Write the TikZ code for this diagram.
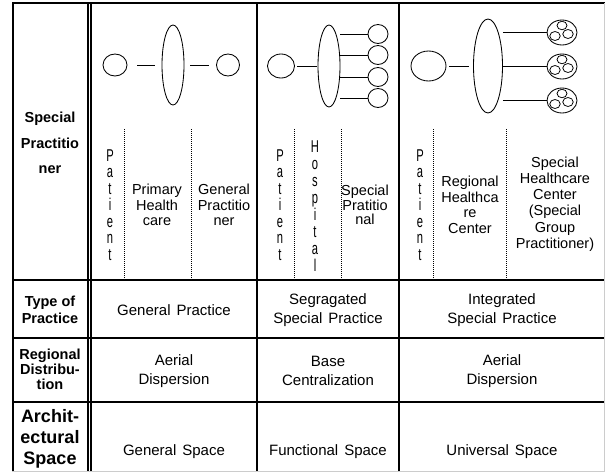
\documentclass[tikz,border=0pt]{standalone}
\usepackage{fontspec}
\usepackage{graphicx}
\setmainfont{Liberation Sans}
\usetikzlibrary{shapes.geometric}
\newcommand\sv[1]{\scalebox{0.8}[1.22]{#1}}
\begin{document}
\begin{tikzpicture}[x=1pt,y=-1pt,
  gridline/.style={line width=1.1pt},
  shp/.style={draw, ellipse, inner sep=0pt, line width=0.85pt},
  conn/.style={line width=0.85pt},
  dots/.style={line width=0.7pt, dash pattern=on 0.7pt off 1.3pt},
  lbl/.style={font=\fontsize{14.5}{17}\selectfont\bfseries, align=center},
  txt/.style={font=\fontsize{15}{18.5}\selectfont, align=center},
  sub/.style={font=\fontsize{14.5}{15.5}\selectfont, align=center},
  vert/.style={font=\fontsize{14}{16.5}\selectfont, align=center}
]
\useasboundingbox (0,0) rectangle (605,472);
% table frame
\draw[line width=2.5pt] (13,3) -- (13,472);
\draw[gridline] (12,3) -- (605,3);
\draw[gridline] (88,3) -- (88,472);
\draw[gridline] (91,3) -- (91,472);
\draw[gridline] (257,3) -- (257,472);
\draw[gridline] (399,3) -- (399,472);
\draw[gridline] (12,280) -- (605,280);
\draw[gridline] (12,338) -- (605,338);
\draw[gridline] (12,402) -- (605,402);
\draw[gray!40, line width=0.8pt] (604.5,3) -- (604.5,472);
\draw[gray!40, line width=0.8pt] (12,471.5) -- (605,471.5);
% dotted sub-column lines
\draw[dots] (124,129) -- (124,279);
\draw[dots] (191,129) -- (191,279);
\draw[dots] (294,129) -- (294,279);
\draw[dots] (341,129) -- (341,279);
\draw[dots] (433,129) -- (433,279);
\draw[dots] (506,129) -- (506,279);

% column 1 diagram
\node[shp, minimum width=24pt, minimum height=22pt] (c1a) at (115,65) {};
\node[shp, minimum width=22pt, minimum height=80pt] (e1) at (173,65) {};
\node[shp, minimum width=23pt, minimum height=22pt] (c1b) at (228,65) {};
\draw[conn, shorten <=10pt, shorten >=7pt] (c1a) -- (e1);
\draw[conn, shorten <=6pt, shorten >=7pt] (e1) -- (c1b);

% column 2 diagram
\node[shp, minimum width=27pt, minimum height=24pt] (c2a) at (281,66) {};
\node[shp, minimum width=22pt, minimum height=82pt] (e2) at (329,66) {};
\draw[conn, shorten <=2pt, shorten >=1pt] (c2a) -- (e2);
\foreach \i/\yy in {1/34,2/55,3/77,4/98}{
  \node[shp, minimum width=20pt, minimum height=19pt] (s\i) at (378,\yy) {};
  \draw[conn] (e2.east |- s\i.west) -- (s\i.west);
}

% column 3 diagram
\node[shp, minimum width=35pt, minimum height=30pt] (c3a) at (428.5,66) {};
\node[shp, minimum width=29pt, minimum height=94pt] (e3) at (488,66) {};
\draw[conn, shorten <=3pt, shorten >=4.5pt] (c3a) -- (e3);
\foreach \i/\yy in {1/32.5,2/66.5,3/100.5}{
  \node[shp, minimum width=30pt, minimum height=25pt] (g\i) at (562,\yy) {};
  \node[shp, minimum width=10pt, minimum height=8.5pt, line width=0.75pt] (g\i t) at ([shift={(0,-7)}]g\i.center) {};
  \node[shp, minimum width=10.5pt, minimum height=9pt, line width=0.75pt] (g\i l) at ([shift={(-7,3.5)}]g\i.center) {};
  \node[shp, minimum width=10.5pt, minimum height=9pt, line width=0.75pt] (g\i r) at ([shift={(6,1.5)}]g\i.center) {};
  \draw[conn] (e3.east |- g\i.west) -- (g\i.west);
}

% left labels
\node[lbl, font=\fontsize{14.5}{25.5}\selectfont\bfseries] (l1) at (50,143) {Special\\Practitio\\ner};
\node[lbl] (l2) at (50,310) {Type of\\Practice};
\node[lbl, font=\fontsize{14.5}{15}\selectfont\bfseries] (l3) at (50,369) {Regional\\Distribu-\\tion};
\node[lbl, font=\fontsize{18}{21}\selectfont\bfseries] (l4) at (50,439) {Archit-\\ectural\\Space};

% sub-column texts
\node[vert] (p1) at (110,205) {\sv{P}\\\sv{a}\\\sv{t}\\\sv{i}\\\sv{e}\\\sv{n}\\\sv{t}};
\node[sub] (t1) at (157,205) {Primary\\Health\\care};
\node[sub] (t2) at (224,205) {General\\Practitio\\ner};
\node[vert] (p2) at (280,205) {\sv{P}\\\sv{a}\\\sv{t}\\\sv{i}\\\sv{e}\\\sv{n}\\\sv{t}};
\node[vert, font=\fontsize{14}{16.9}\selectfont] (h2) at (315,206) {\sv{H}\\\sv{o}\\\sv{s}\\\sv{p}\\\sv{i}\\\sv{t}\\\sv{a}\\\sv{l}};
\node[sub, font=\fontsize{14.5}{14.5}\selectfont] (t3) at (365,205) {Special\\Pratitio\\nal};
\node[vert] (p3) at (420,205) {\sv{P}\\\sv{a}\\\sv{t}\\\sv{i}\\\sv{e}\\\sv{n}\\\sv{t}};
\node[sub] (t4) at (470,205) {Regional\\Healthca\\re\\Center};
\node[sub, font=\fontsize{14.5}{16.3}\selectfont] (t5) at (555,204) {Special\\Healthcare\\Center\\(Special\\Group\\Practitioner)};

% row texts
\node[txt] (r21) at (174,310) {General\hspace{.4em}Practice};
\node[txt] (r22) at (328,310) {Segragated\\Special\hspace{.4em}Practice};
\node[txt] (r23) at (502,310) {Integrated\\Special\hspace{.4em}Practice};
\node[txt] (r31) at (174,371) {Aerial\\Dispersion};
\node[txt] (r32) at (328,371) {Base\\Centralization};
\node[txt] (r33) at (502,371) {Aerial\\Dispersion};
\node[txt] (r41) at (174,452) {General\hspace{.4em}Space};
\node[txt] (r42) at (328,452) {Functional\hspace{.4em}Space};
\node[txt] (r43) at (502,452) {Universal\hspace{.4em}Space};
\end{tikzpicture}
\end{document}
